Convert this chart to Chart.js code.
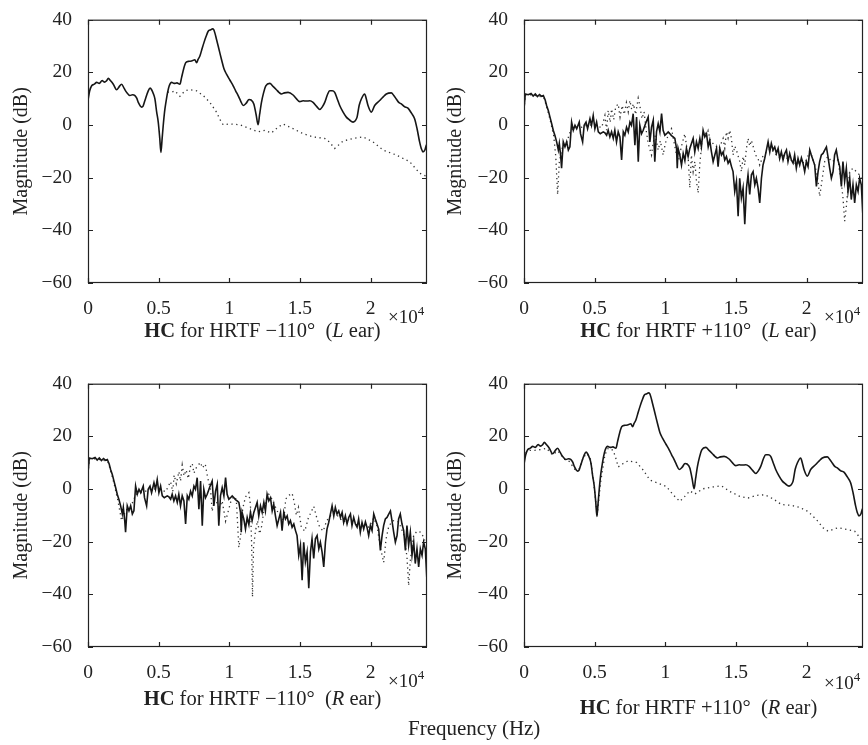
<!DOCTYPE html>
<html>
<head>
<meta charset="utf-8">
<title>HC magnitude responses</title>
<script src="https://cdn.jsdelivr.net/npm/chart.js@4.4.0/dist/chart.umd.min.js"></script>
<style>
  body { margin: 0; background: #fff; }
  #wrap { position: relative; width: 868px; height: 745px; font-family: "Liberation Serif", "DejaVu Serif", serif; color: #222; }
  #wrap canvas { position: absolute; }
  #freq { position: absolute; left: 408px; top: 716px; font-size: 21px; white-space: nowrap; }
</style>
</head>
<body>
<div id="wrap">
  <canvas id="c-tl" width="434" height="364" style="left:0;top:0"></canvas>
  <canvas id="c-tr" width="434" height="364" style="left:434px;top:0"></canvas>
  <canvas id="c-bl" width="434" height="364" style="left:0;top:364px"></canvas>
  <canvas id="c-br" width="434" height="364" style="left:434px;top:364px"></canvas>
  <div id="freq">Frequency (Hz)</div>
</div>
<script>
  "use strict";

  const FONT = '"Liberation Serif", "DejaVu Serif", serif';

  const xTicks = [0, 5000, 10000, 15000, 20000];
  const yTicks = [-60, -40, -20, 0, 20, 40];

  // smooth HC curve (same solid line in -110 L and +110 R panels)
  const smoothFreq = [0, 120, 260, 450, 613, 800, 1000, 1150, 1320, 1438, 1600, 1791, 2027, 2200, 2380, 2550, 2734, 2970, 3150, 3323,
    3450, 3559, 3795, 3900, 4030, 4266, 4400, 4502, 4620, 4737, 4860, 4973, 5080, 5162, 5250, 5327, 5420, 5516, 5640, 5752,
    5917, 6100, 6300, 6506, 6624, 6780, 6930, 7150, 7332, 7567, 7685, 7800, 7921, 8050, 8203, 8350, 8509, 8700, 8815, 8900,
    8980, 9100, 9216, 9330, 9451, 9620, 9805, 10050, 10277, 10450, 10630, 10800, 10984, 11200, 11400, 11550, 11739, 11900, 12045, 12150,
    12281, 12420, 12587, 12870, 13100, 13341, 13500, 13694, 13900, 14166, 14520, 14750, 14991, 15230, 15462, 15700, 15934, 16200, 16405, 16600,
    16759, 16950, 17112, 17290, 17466, 17640, 17820, 18050, 18291, 18500, 18763, 18900, 19050, 19200, 19352, 19587, 19700, 19823, 20059, 20295,
    20648, 20900, 21120, 21473, 21650, 21826, 22000, 22180, 22400, 22652, 22900, 23123, 23300, 23476, 23600, 23712, 23850, 23948, 24000];
  const smoothDb = [9.5, 13, 14.9, 15.5, 16.2, 15.8, 16.9, 16.3, 16.8, 17.7, 16.8, 15.5, 13.4, 14.5, 15.5, 14, 12.4, 11.2, 11.5, 11.2,
    10.2, 8.6, 6.8, 7.2, 9.3, 13, 14, 13.4, 12, 9.9, 5, 1.1, -5, -10.4, -5, -0.1, 5, 8.6, 12.5, 14.9,
    16.2, 15.8, 16, 15.5, 18, 21.5, 23.7, 24.2, 24.3, 24.8, 23.7, 25, 26.2, 28.5, 31.2, 33.5, 35.6, 36.2, 36.5, 36.2,
    35, 32.5, 30, 27.5, 24.9, 21.5, 19.3, 17, 14.9, 13, 11.2, 9.2, 7.4, 8.3, 9.7, 9.5, 8, 4, 0.1, 4,
    8.6, 12, 14.9, 15.8, 14.7, 13.4, 12.5, 11.8, 12.2, 12.4, 11.4, 10, 8.9, 9.2, 9.1, 9.2, 8.6, 7, 5.9, 7,
    8.6, 11.5, 13, 13, 12.4, 10, 7.4, 5, 3, 2, 1.1, 1.5, 3, 7.5, 9.9, 11.8, 10, 7.4, 4.9, 7.4,
    9.3, 10.7, 11.8, 12.2, 11.2, 9.9, 8.6, 8, 7, 6.4, 4.5, 2.4, -1.5, -6.4, -9, -10.2, -9.5, -7.7, -7.5];

  // dotted curve, HRTF -110 (L ear)
  const dotTLFreq = [5640, 5870, 6152, 6506, 6859, 7213, 7685, 8156, 8627, 9098, 9400, 9569, 10041, 10748, 11455, 12045, 12516, 12988, 13459, 13812,
    14520, 15226, 15934, 16759, 17100, 17466, 18056, 18763, 19470, 20177, 20884, 21826, 22769, 23476, 23948, 24000];
  const dotTLDb = [12.5, 12.4, 13, 10.9, 13, 13.4, 13, 11.2, 8.6, 4.9, 1.5, 0.1, 0.4, 0.1, -1.4, -2.6, -2, -3, -0.8, 0.4,
    -1.4, -3.3, -4.5, -5.1, -6.5, -8.9, -6.1, -5.1, -4.5, -6.4, -9.5, -11.4, -13.9, -18.3, -19.5, -20];

  // dotted curve, HRTF +110 (R ear)
  const dotBRFreq = [0, 71, 424, 777, 1200, 1600, 2000, 2400, 2800, 3200, 3600, 3900, 4200, 4450, 4700, 4900, 5186, 5420, 5728, 5964,
    6317, 6506, 6671, 7025, 7378, 7968, 8439, 8910, 9500, 10089, 10560, 11032, 11386, 11739, 12093, 12681, 13389, 13977, 14567, 15275,
    15863, 16452, 17043, 17631, 18222, 18928, 19518, 20106, 20697, 21167, 21520, 22228, 22817, 23407, 23878, 24000];
  const dotBRDb = [12, 13.5, 14.7, 14.7, 15, 15.5, 13, 14.5, 11.5, 10.5, 7.5, 7.5, 12, 13.5, 11.5, 4, -10, 2.5, 13, 15.5,
    14.7, 11.6, 8.4, 9.7, 10.7, 10.1, 7.2, 3.4, 2.2, 0.9, -2.2, -4.7, -2.8, -0.7, -1.9, 0.1, 0.8, 1.2, -0.9, -2.8,
    -3.4, -2.4, -2.2, -3.7, -5.9, -6.2, -7, -8.5, -11.6, -14.7, -16, -14.7, -15.3, -16, -19.1, -20];

  // ragged HC curve (same solid line in +110 L and -110 R panels)
  const raggedFreq = [0, 90, 300, 500, 650, 800, 950, 1100, 1250, 1370, 1500, 1600, 1720, 1840, 1960, 2070, 2190, 2310, 2430, 2500,
    2600, 2660, 2780, 2900, 3020, 3140, 3250, 3370, 3490, 3610, 3730, 3910, 4000, 4150, 4260, 4390, 4500, 4670, 4780, 4900,
    5020, 5140, 5260, 5400, 5610, 5730, 5850, 5960, 6080, 6200, 6320, 6430, 6550, 6670, 6790, 6910, 7030, 7140, 7260, 7380,
    7500, 7610, 7730, 7850, 7970, 8090, 8200, 8320, 8440, 8600, 8790, 8910, 9030, 9150, 9260, 9380, 9500, 9620, 9740, 9850,
    9970, 10090, 10210, 10330, 10440, 10560, 10680, 10800, 10850, 10910, 11030, 11150, 11270, 11390, 11500, 11620, 11740, 11975, 12090, 12210,
    12330, 12450, 12560, 12680, 12800, 12920, 13040, 13150, 13270, 13390, 13510, 13630, 13740, 13860, 13980, 14100, 14210, 14330, 14450, 14570,
    14690, 14800, 14920, 15040, 15160, 15270, 15390, 15510, 15630, 15750, 15860, 15980, 16100, 16220, 16340, 16450, 16570, 16690, 16810, 16920,
    17040, 17160, 17280, 17400, 17510, 17630, 17750, 17870, 17990, 18100, 18220, 18340, 18460, 18580, 18690, 18810, 18930, 19050, 19160, 19280,
    19400, 19520, 19640, 19750, 19870, 19990, 20110, 20230, 20340, 20460, 20580, 20700, 20820, 20930, 21050, 21170, 21290, 21410, 21520, 21640,
    21760, 21880, 21990, 22110, 22230, 22350, 22470, 22580, 22700, 22820, 22940, 23060, 23170, 23290, 23410, 23530, 23650, 23760, 23880, 24000];
  const raggedDb = [6.1, 11.8, 11.5, 12, 11, 11.8, 10.8, 11.6, 10.9, 11.2, 9.5, 7.4, 5.5, 3, 0.5, -2, -4, -6.4, -9.5, -7,
    -12, -16.4, -6.4, -8.3, -6.4, -9.5, -8.3, 1.1, -2, -0.1, -1.4, 1.1, -3.3, -6.4, -0.1, 1.1, -1.4, 2.4, -0.1, 3.6,
    -1.4, 1.1, -2.6, -3.3, -2.6, -3, -3.9, -2, -4.5, -2.6, -5.1, -2, -6.4, -2.6, -4.5, -13.3, -2.6, -3.9, -0.8, -2.6,
    1.1, -0.1, 4.3, -7.7, 3, -13.9, -0.1, -3.3, -2, 0.5, 3, -6.4, -0.8, 1.8, -13.9, -2.6, 0.5, -2.6, 4.3, -2,
    -3.9, -3.3, -2.6, -3.3, -4, -4.5, -5.1, -9, -16.4, -8.9, -11.4, -15.2, -10.8, -13.5, -8.9, -12, -8.9, -5.1, -10.2, -6.4,
    -8.9, -5.1, -8.3, -2, -4.5, -3.3, -8.3, -5.8, -10.2, -13.9, -11.4, -8.9, -15.8, -8.9, -11.4, -10.2, -13.3, -12, -14.5, -13.3,
    -15.8, -17.7, -25.2, -21.4, -34.6, -20.2, -27.7, -23.9, -37.7, -23.9, -18.9, -26.4, -18.9, -17.7, -22.7, -20.2, -23.9, -29.6, -20.2, -15.2,
    -12.7, -9.5, -6.4, -10.2, -7, -9.5, -8.3, -10.8, -8.9, -12.7, -10.2, -13.3, -10.8, -9.5, -13.9, -10.8, -13.3, -14.5, -11.4, -16.4,
    -12.7, -15.2, -12.5, -14.5, -17.7, -13.9, -15.8, -9.5, -11.4, -13.3, -15.2, -23.3, -17.7, -13.9, -11.4, -10.8, -9.5, -8.3, -12, -16.4,
    -20.2, -17.7, -11.4, -9.5, -13.3, -15.8, -23.3, -13.9, -21.4, -16.4, -25.2, -20.2, -28.3, -22.7, -29.6, -22.7, -25.2, -20.2, -22.7, -35.2];

  // dotted curve, HRTF +110 (L ear)
  const dotTRFreq = [0, 100, 500, 1000, 1400, 1600, 1850, 2100, 2250, 2380, 2500, 2650, 2800, 3000, 3300, 3600, 4000, 4500, 5000, 5500,
    5728, 5850, 5960, 6100, 6200, 6350, 6500, 6671, 6800, 6950, 7100, 7250, 7380, 7496, 7620, 7750, 7900, 8085, 8200, 8350,
    8500, 8650, 8792, 9028, 9150, 9300, 9500, 9650, 9852, 10000, 10200, 10325, 10443, 10600, 10800, 10950, 11150, 11386, 11500, 11620,
    11739, 11850, 11975, 12093, 12211, 12328, 12446, 12600, 12800, 12917, 13035, 13200, 13500, 13800, 14095, 14213, 14331, 14449, 14567, 14685,
    14802, 14920, 15038, 15274, 15392, 15510, 15628, 15745, 15863, 15981, 16099, 16217, 16335, 16453, 16571, 16689, 16900, 17200, 17500, 17800,
    18100, 18400, 18700, 19000, 19300, 19600, 19900, 20226, 20344, 20462, 20580, 20698, 20816, 20933, 21051, 21169, 21287, 21500, 21800, 22100,
    22230, 22348, 22466, 22584, 22702, 22820, 22938, 23055, 23291, 23527, 23762, 24000];
  const dotTRDb = [6, 11.5, 11.5, 11, 10.5, 7, 2, -4, -12, -26.4, -14, -10, -7, -7, -2, -1, -1, 0, 0, -1,
    3.6, -2, 5.5, 1, 6.1, 2, 7, 8, 3, 7.4, 4, 8.5, 5, 9.3, 6, 8, 4, 10.2, 7.4, 2.4,
    5, -2, -7, -11.4, -6.4, -4, -9.5, -6, -11.4, -7, -4, -2.6, -1.4, -6, -11.4, -13.3, -8, -3.3, -7.7, -12,
    -23.9, -11.4, -17.7, -13.9, -21.4, -25.8, -15, -6, -2.5, -4.5, -2.2, -6, -7.7, -9, -5.1, -8.9, -2.6, -5, -2, -5.1,
    -11.4, -8, -9.5, -13.9, -17.7, -12, -15.2, -9, -5.1, -8, -5.8, -8, -10.2, -12, -12.7, -15.2, -12, -10, -9, -11,
    -12.5, -11.5, -13, -13.5, -15, -14, -14.5, -10, -11.4, -13.3, -15.2, -17.7, -21.4, -27.1, -22.7, -18.3, -13.9, -12, -14, -13,
    -13.3, -17.7, -22, -27.7, -36.5, -31, -24, -17.7, -16.4, -17.7, -19, -20.2];

  // dotted curve, HRTF -110 (R ear)
  const dotBLFreq = [0, 100, 500, 1000, 1400, 1600, 1850, 2100, 2380, 2700, 3000, 3400, 4000, 4500, 5000, 5500, 5846, 6000, 6100, 6250,
    6436, 6550, 6671, 6800, 6950, 7100, 7250, 7378, 7500, 7700, 7967, 8100, 8300, 8450, 8550, 8675, 8793, 8950, 9100, 9300,
    9500, 9736, 9900, 10100, 10325, 10500, 10679, 10800, 10950, 11150, 11386, 11500, 11580, 11646, 11720, 11857, 12000, 12150, 12300, 12500,
    12800, 13000, 13200, 13500, 13860, 14000, 14200, 14450, 14600, 14750, 14900, 15100, 15350, 15600, 15983, 16200, 16400, 16650, 16900, 17200,
    17500, 17800, 18100, 18400, 18700, 19000, 19300, 19600, 19900, 20226, 20462, 20700, 20933, 21100, 21300, 21600, 22000, 22400, 22584, 22702,
    22820, 23055, 23300, 23600, 23880, 24000];
  const dotBLDb = [6, 11.5, 11.5, 11, 10.5, 7, 2, -4, -12, -8, -7, -2, -1, 0, 0, -1, 2.8, -1, 5.3, 2,
    6.6, 3, 9.1, 5, 7.2, 4, 8.5, 9.7, 6, 8.5, 10.1, 8, 9.5, 5, 2.5, -0.3, -8.5, -4, -5, -7,
    -4.5, -12.2, -9, -5, -2.8, -4, -22.2, -18, -7.5, -3, -1.4, -6, -20, -41, -22, -16, -12, -17, -14, -6,
    -2, -3.6, -6, -9.5, -12, -3.8, -2.5, -1.6, -5, -10, -7, -14.5, -16, -11, -6.6, -11, -14.5, -16, -12, -10,
    -9, -11, -12.5, -11.5, -13, -13.5, -15, -14, -14.5, -11, -14, -22.2, -27.9, -19, -14, -12, -12.5, -18, -26, -36.7,
    -27, -17.5, -16, -16.5, -20, -21];

  const panelAngle = ["\u2212110\u00b0", "+110\u00b0", "\u2212110\u00b0", "+110\u00b0"];
  const panelEar = ["L", "L", "R", "R"];

  function pts(fs, ds) {
    return fs.map(function (f, i) {
      return { x: f, y: ds[i] };
    });
  }

  // MATLAB-style box: frame on all sides, ticks pointing inwards,
  // rich x label and the x10^4 multiplier
  const matlabBox = {
    id: "matlabBox",
    afterDraw: function (chart, args, opts) {
      const ctx = chart.ctx;
      const a = chart.chartArea;
      const sx = chart.scales.x;
      const sy = chart.scales.y;
      const tl = 5;
      ctx.save();
      ctx.strokeStyle = "#222";
      ctx.lineWidth = 1.2;
      ctx.strokeRect(a.left + 0.5, a.top + 0.5, a.right - a.left - 1, a.bottom - a.top - 1);
      ctx.beginPath();
      sx.ticks.forEach(function (t) {
        const px = Math.round(sx.getPixelForValue(t.value)) + 0.5;
        ctx.moveTo(px, a.bottom);
        ctx.lineTo(px, a.bottom - tl);
        ctx.moveTo(px, a.top);
        ctx.lineTo(px, a.top + tl);
      });
      sy.ticks.forEach(function (t) {
        const py = Math.round(sy.getPixelForValue(t.value)) + 0.5;
        ctx.moveTo(a.left, py);
        ctx.lineTo(a.left + tl, py);
        ctx.moveTo(a.right, py);
        ctx.lineTo(a.right - tl, py);
      });
      ctx.stroke();

      // x label: bold HC, italic ear letter
      const parts = [
        { t: "HC", f: "bold" },
        { t: " for HRTF " + opts.angle + "  (", f: "" },
        { t: opts.ear, f: "italic" },
        { t: " ear)", f: "" },
      ];
      let w = 0;
      parts.forEach(function (p) {
        ctx.font = (p.f ? p.f + " " : "") + "20.5px " + FONT;
        p.w = ctx.measureText(p.t).width;
        w += p.w;
      });
      let x = (a.left + a.right) / 2 + 5 - w / 2;
      ctx.fillStyle = "#222";
      ctx.textBaseline = "alphabetic";
      ctx.textAlign = "left";
      parts.forEach(function (p) {
        ctx.font = (p.f ? p.f + " " : "") + "20.5px " + FONT;
        ctx.fillText(p.t, x, opts.titleY);
        x += p.w;
      });

      // x10^4 multiplier
      ctx.font = "19px " + FONT;
      ctx.fillText("\u00d710", a.right - 39, opts.expY);
      const ew = ctx.measureText("\u00d710").width;
      ctx.font = "13px " + FONT;
      ctx.fillText("4", a.right - 39 + ew, opts.expY - 8);
      ctx.restore();
    },
  };

  function makePanel(id, idx, solid, dotted, padLeft, titleY, expY) {
    const ctx = document.getElementById(id).getContext("2d");
    return new Chart(ctx, {
      type: "line",
      data: {
        datasets: [
          {
            data: dotted,
            borderColor: "#333",
            borderWidth: 1.3,
            borderDash: [1.3, 3.5],
            pointRadius: 0,
            tension: 0,
            order: 2,
          },
          {
            data: solid.points,
            borderColor: "#161616",
            borderWidth: 1.6,
            pointRadius: 0,
            tension: solid.smooth ? 0.3 : 0,
            cubicInterpolationMode: solid.smooth ? "monotone" : "default",
            order: 1,
          },
        ],
      },
      options: {
        responsive: false,
        animation: false,
        devicePixelRatio: 1,
        layout: { padding: { top: 17, bottom: 0, left: 0, right: 434 - padLeft - 339 } },
        plugins: {
          legend: { display: false },
          tooltip: { enabled: false },
          matlabBox: { angle: panelAngle[idx], ear: panelEar[idx], titleY: titleY, expY: expY },
        },
        scales: {
          x: {
            type: "linear",
            min: 0,
            max: 24000,
            grid: { display: false },
            border: { display: false },
            afterBuildTicks: function (s) {
              s.ticks = xTicks.map(function (v) { return { value: v }; });
            },
            afterFit: function (s) { s.height = 81; },
            ticks: {
              autoSkip: false,
              maxRotation: 0,
              padding: 6,
              color: "#222",
              font: { family: FONT, size: 19.5 },
              callback: function (v) { return String(v / 10000); },
            },
          },
          y: {
            min: -60,
            max: 40,
            grid: { display: false },
            border: { display: false },
            afterBuildTicks: function (s) {
              s.ticks = yTicks.map(function (v) { return { value: v }; });
            },
            afterFit: function (s) { s.width = padLeft; },
            ticks: {
              padding: 8,
              color: "#222",
              font: { family: FONT, size: 19.5 },
              callback: function (v) { return String(v).replace("-", "\u2212"); },
            },
            title: {
              display: true,
              text: "Magnitude (dB)",
              color: "#222",
              font: { family: FONT, size: 20 },
              padding: { top: 10, bottom: 0 },
            },
          },
        },
      },
      plugins: [matlabBox],
    });
  }

  const smoothLine = { points: pts(smoothFreq, smoothDb), smooth: true };
  const raggedLine = { points: pts(raggedFreq, raggedDb), smooth: false };

  makePanel("c-tl", 0, smoothLine, pts(dotTLFreq, dotTLDb), 88, 337, 323);
  makePanel("c-tr", 1, raggedLine, pts(dotTRFreq, dotTRDb), 90, 337, 323);
  makePanel("c-bl", 2, raggedLine, pts(dotBLFreq, dotBLDb), 88, 341, 323);
  makePanel("c-br", 3, smoothLine, pts(dotBRFreq, dotBRDb), 90, 350, 325);
</script>
</body>
</html>
